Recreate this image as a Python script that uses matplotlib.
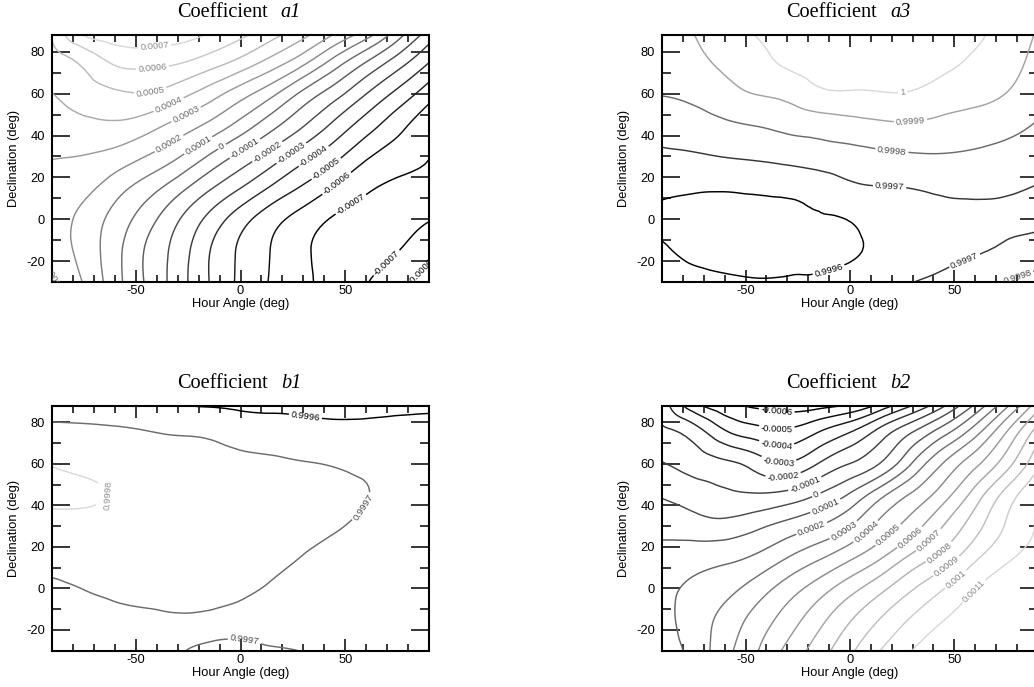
# ===========================================
# Coefficient maps over hour angle / declination
# ===========================================

import numpy as np
import matplotlib
matplotlib.use("Agg")
import matplotlib.pyplot as plt
import matplotlib.tri as mtri
from matplotlib.ticker import MultipleLocator

plt.rcParams["font.family"] = ["Liberation Sans", "DejaVu Sans"]
plt.rcParams["axes.unicode_minus"] = False

# -------------------------------
# Grid nodes (deg)
# -------------------------------
HOUR_ANGLE = [-90, -75, -60, -45, -30, -15, 0, 15, 30, 45, 60, 75, 90]
DECLINATION = [-30, -15, 0, 15, 30, 45, 60, 75, 88]

# a1, units of 1e-4 (one row per declination)
A1 = [
    [3.1, 1.95, 0.4, -1.1, -2.5, -4.0, -5.2, -6.1, -6.8, -7.25, -7.05, -6.3, -5.6],
    [2.6, 1.65, 0.35, -1.1, -2.4, -3.95, -5.15, -6.05, -6.85, -7.3, -7.35, -7.03, -6.3],
    [2.45, 1.71, 0.64, -0.55, -1.9, -3.27, -4.58, -5.63, -6.45, -7.1, -7.35, -7.3, -7.05],
    [2.6, 2.3, 1.45, 0.5, -0.6, -1.85, -2.98, -4.15, -5.15, -6.1, -6.85, -7.2, -7.3],
    [3.05, 2.97, 2.64, 1.98, 1.1, -0.1, -1.3, -2.45, -3.65, -4.7, -5.85, -6.5, -6.98],
    [3.5, 3.75, 3.85, 3.45, 2.67, 1.79, 0.64, -0.67, -1.92, -3.25, -4.5, -5.64, -6.7],
    [3.98, 4.5, 4.85, 4.95, 4.4, 3.5, 2.43, 1.25, -0.27, -1.58, -2.98, -4.27, -5.55],
    [4.5, 5.2, 6.15, 6.3, 6.1, 5.5, 4.67, 3.58, 2.27, 0.56, -1.02, -2.5, -3.98],
    [5.05, 7.05, 7.45, 7.6, 7.4, 6.9, 6.2, 5.3, 4.25, 2.9, 1.4, -0.6, -2.5],
]
A1_LEVELS = [-7, -6, -5, -4, -3, -2, -1, 0, 1, 2, 3, 4, 5, 6, 7]

# a3, (value - 1) in units of 1e-4
A3 = [
    [-3.75, -3.85, -3.9, -3.95, -3.93, -3.93, -3.65, -3.4, -3.02, -2.7, -2.3, -1.95, -1.7],
    [-3.95, -4.08, -4.15, -4.2, -4.15, -4.1, -4.1, -3.8, -3.55, -3.3, -3.08, -2.85, -2.5],
    [-4.08, -4.12, -4.15, -4.15, -4.1, -4.05, -3.97, -3.6, -3.4, -3.25, -3.12, -3.1, -3.2],
    [-3.85, -3.92, -3.93, -3.87, -3.8, -3.6, -3.2, -3.05, -2.98, -2.85, -2.85, -2.9, -3.05],
    [-3.2, -3.13, -2.97, -2.85, -2.68, -2.5, -2.34, -2.2, -2.11, -2.08, -2.18, -2.33, -2.6],
    [-2.6, -2.38, -2.14, -1.97, -1.75, -1.55, -1.36, -1.18, -1.12, -1.27, -1.43, -1.7, -2.08],
    [-1.95, -1.77, -1.38, -0.97, -0.7, -0.2, -0.1, -0.05, -0.08, -0.44, -0.7, -1.02, -1.68],
    [-1.55, -1.25, -0.8, -0.3, 0.12, 0.3, 0.38, 0.42, 0.4, 0.2, -0.15, -0.6, -1.35],
    [-1.3, -1.02, -0.45, 0.02, 0.3, 0.45, 0.55, 0.6, 0.55, 0.4, 0.15, -0.4, -1.1],
]
A3_LEVELS = [-4, -3, -2, -1, 0]

# b1, (value - 1) in units of 1e-4
B1 = [
    [-3.3, -3.35, -3.4, -3.35, -3.05, -2.9, -2.85, -2.95, -3.02, -3.2, -3.35, -3.4, -3.45],
    [-3.15, -3.2, -3.15, -3.1, -3.05, -3.08, -3.12, -3.2, -3.3, -3.45, -3.55, -3.6, -3.65],
    [-3.1, -2.99, -2.87, -2.8, -2.75, -2.7, -2.85, -3.08, -3.3, -3.45, -3.55, -3.65, -3.7],
    [-2.7, -2.65, -2.55, -2.5, -2.5, -2.45, -2.5, -2.75, -3.03, -3.3, -3.45, -3.55, -3.65],
    [-2.26, -2.25, -2.2, -2.25, -2.3, -2.3, -2.35, -2.45, -2.7, -2.92, -3.2, -3.4, -3.55],
    [-1.85, -1.9, -2.03, -2.15, -2.25, -2.3, -2.4, -2.5, -2.6, -2.8, -2.97, -3.3, -3.45],
    [-2.05, -2.2, -2.3, -2.4, -2.5, -2.6, -2.75, -2.85, -2.95, -3.05, -3.2, -3.4, -3.55],
    [-2.76, -2.8, -2.85, -2.95, -3.07, -3.15, -3.4, -3.5, -3.6, -3.7, -3.75, -3.75, -3.8],
    [-3.3, -3.4, -3.5, -3.7, -3.95, -4.05, -4.15, -4.2, -4.25, -4.3, -4.2, -4.15, -4.08],
]
B1_LEVELS = [-4, -3, -2]

# b2, units of 1e-4
B2 = [
    [1.6, 2.3, 3.65, 4.9, 6.25, 7.5, 8.8, 10.05, 11.02, 11.8, 12.4, 12.9, 13.3],
    [1.7, 2.43, 3.33, 4.36, 5.46, 6.67, 7.92, 9.08, 10.14, 10.98, 11.6, 12.2, 12.7],
    [1.8, 2.16, 2.65, 3.45, 4.47, 5.5, 6.62, 7.75, 8.93, 9.98, 10.97, 11.7, 12.3],
    [1.35, 1.6, 1.75, 2.15, 2.98, 3.83, 4.8, 5.92, 7.27, 8.4, 9.8, 10.8, 11.6],
    [0.7, 0.45, 0.35, 0.78, 1.37, 2.02, 2.97, 4.35, 5.55, 7.05, 8.6, 10.1, 11.1],
    [-0.09, -0.47, -0.81, -0.9, -0.67, 0.07, 1.14, 2.75, 4.18, 5.6, 7.45, 9.4, 10.9],
    [-0.95, -1.38, -1.78, -2.4, -2.9, -1.95, -0.98, 0.1, 2.1, 4.1, 5.75, 7.6, 9.8],
    [-1.75, -2.42, -3.8, -4.5, -4.75, -3.95, -2.97, -1.5, 0.05, 1.7, 3.65, 6.05, 8.5],
    [-2.4, -4.6, -5.6, -6.15, -6.4, -6.3, -5.85, -4.6, -2.95, -1.1, 1.2, 3.8, 6.6],
]
B2_LEVELS = [-6, -5, -4, -3, -2, -1, 0, 1, 2, 3, 4, 5, 6, 7, 8, 9, 10, 11]

# -------------------------------
# Layout
# -------------------------------
LABEL_SIZE = 9.3
CLABEL_SIZE = 6.8
TITLE_SIZE = 14.6
SERIF = ["Liberation Serif", "DejaVu Serif"]

PANELS = [
    dict(name="a1", z=A1, levels=A1_LEVELS, offset=0.0,
         rect=[0.0503, 0.5895, 0.3646, 0.3595],
         labels=[(-41, 83), (-42, 72), (-43, 61), (-34, 54), (-26, 50), (-34, 36),
                 (-20, 35), (-9, 35), (2, 34), (13, 32), (24, 32), (35, 30),
                 (41, 24), (46, 17), (54, 5), (69, -20), (86, -25), (-87, -27)]),
    dict(name="a3", z=A3, levels=A3_LEVELS, offset=1.0,
         rect=[0.6402, 0.5895, 0.3636, 0.3595],
         labels=[(25, 62), (29, 47), (20, 32), (19, 16), (-10, -25),
                 (55, -20), (80, -27)]),
    dict(name="b1", z=B1, levels=B1_LEVELS, offset=1.0,
         rect=[0.0503, 0.0528, 0.3646, 0.3566],
         labels=[(31, 83), (60, 38), (-58, 46), (2, -24)]),
    dict(name="b2", z=B2, levels=B2_LEVELS, offset=0.0,
         rect=[0.6402, 0.0528, 0.3636, 0.3566],
         labels=[(-35, 86), (-35, 77), (-35, 70), (-34, 62), (-32, 55), (-21, 49),
                 (-16, 45), (-11, 38), (-18, 28), (-3, 28), (8, 27), (19, 25),
                 (30, 23), (38, 23), (43, 17), (46, 11), (51, 4), (60, -2)]),
]


def grid_triangulation():
    nx, ny = len(HOUR_ANGLE), len(DECLINATION)
    xx, yy = np.meshgrid(HOUR_ANGLE, DECLINATION)
    triangles = []
    for j in range(ny - 1):
        for i in range(nx - 1):
            k = j * nx + i
            triangles.append([k, k + 1, k + nx + 1])
            triangles.append([k, k + nx + 1, k + nx])
    return mtri.Triangulation(xx.ravel(), yy.ravel(), triangles)


def draw_panel(ax, panel):
    tri = grid_triangulation()
    z = np.asarray(panel["z"], dtype=float).ravel()
    interp = mtri.CubicTriInterpolator(tri, z, kind="min_E")
    tri_f, z_f = mtri.UniformTriRefiner(tri).refine_field(z, triinterpolator=interp, subdiv=3)

    levels = panel["levels"]
    shades = np.linspace(0.0, 0.85, len(levels))
    line_greys = [str(g) for g in shades]
    text_greys = [str(round(g * 0.65, 3)) for g in shades]
    cs = ax.tricontour(tri_f, z_f, levels=levels, colors=line_greys, linewidths=1.05)

    offset = panel["offset"]
    fmt = lambda v: f"{offset + v * 1e-4:g}"
    ax.clabel(cs, fmt=fmt, fontsize=CLABEL_SIZE, inline=True, inline_spacing=2,
              colors=text_greys, manual=panel["labels"])

    ax.set_xlim(-90, 90)
    ax.set_ylim(-30, 88)
    ax.xaxis.set_major_locator(MultipleLocator(50))
    ax.xaxis.set_minor_locator(MultipleLocator(10))
    ax.yaxis.set_major_locator(MultipleLocator(20))
    ax.yaxis.set_minor_locator(MultipleLocator(10))

    ax.tick_params(axis="x", which="major", direction="in", length=8.6, width=1.1,
                   top=True, labelsize=LABEL_SIZE, pad=2.5)
    ax.tick_params(axis="x", which="minor", direction="in", length=5, width=1.1, top=True)
    ax.tick_params(axis="y", which="major", direction="in", length=13, width=1.1,
                   right=True, labelsize=LABEL_SIZE, pad=5)
    ax.tick_params(axis="y", which="minor", direction="in", length=6.5, width=1.1, right=True)
    for spine in ax.spines.values():
        spine.set_linewidth(1.5)

    ax.set_xlabel("Hour Angle (deg)", fontsize=LABEL_SIZE)
    ax.set_ylabel("Declination (deg)", fontsize=LABEL_SIZE)
    ax.xaxis.set_label_coords(0.5, -0.065)
    ax.yaxis.set_label_coords(-0.086, 0.5)

    # title: roman word + italic coefficient name
    ax.text(0.572, 1.09, "Coefficient", transform=ax.transAxes, ha="right", va="center",
            fontsize=TITLE_SIZE, family=SERIF)
    ax.text(0.607, 1.09, panel["name"], transform=ax.transAxes, ha="left", va="center",
            fontsize=TITLE_SIZE, family=SERIF, style="italic")


fig = plt.figure(figsize=(10.34, 6.87), dpi=100)

for panel in PANELS:
    ax = fig.add_axes(panel["rect"])
    draw_panel(ax, panel)

fig.savefig("out.png", dpi=100)
